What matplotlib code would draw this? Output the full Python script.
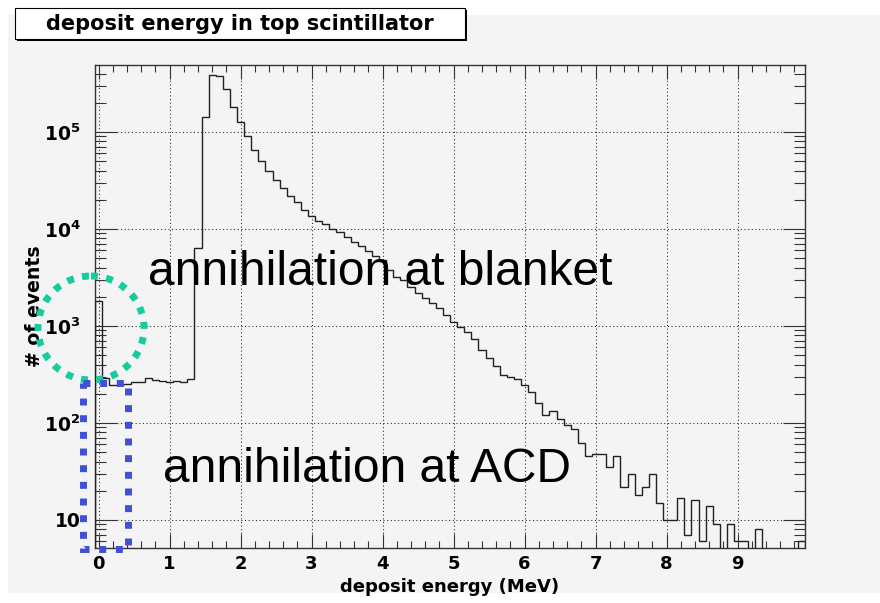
import numpy as np
import matplotlib.pyplot as plt
from matplotlib.patches import Ellipse, Rectangle
from matplotlib.ticker import FixedLocator, MultipleLocator, LogLocator, NullFormatter, FixedFormatter
from matplotlib.transforms import Affine2D

plt.rcParams['mathtext.fontset'] = 'dejavusans'

# histogram: 100 bins of 0.1 MeV, centred on 0.0, 0.1, ... 9.9
counts = [1800, 290, 245, 247, 250, 263, 267, 289, 278, 273,
          267, 273, 267, 283, 6400, 142000, 384000, 380000, 278000, 182000,
          127000, 90000, 65600, 49700, 39200, 32200, 26400, 21700, 19000, 15800,
          13700, 12200, 11200, 9900, 9200, 8200, 7400, 6600, 5950, 5300,
          4800, 3800, 3190, 2990, 2510, 2180, 1940, 1720, 1530, 1300,
          1110, 985, 875, 725, 565, 471, 386, 312, 299, 281,
          246, 210, 161, 122, 133, 109, 95, 86, 62, 46,
          48, 48, 35, 46, 22, 30, 18, 22, 30, 15,
          10, 10, 17, 7, 16, 6, 14, 9, 2, 9,
          6, 6, 2, 8, 2, 2, 2, 2, 2, 6]
edges = np.linspace(-0.05, 9.95, len(counts) + 1)

xticks = list(range(10))
yticks = [10, 1e2, 1e3, 1e4, 1e5]
ylabels = ['10', r'$\mathbf{10^{2}}$', r'$\mathbf{10^{3}}$', r'$\mathbf{10^{4}}$', r'$\mathbf{10^{5}}$']

bg = '#f4f4f4'
fig = plt.figure(figsize=(8.8, 6.03), dpi=100, facecolor='white')
# pixel coords, origin top-left
px = Affine2D().scale(0.01, -0.01).translate(0, 6.03) + fig.dpi_scale_trans

fig.add_artist(Rectangle((8, 15), 872, 578, transform=px, facecolor=bg, edgecolor='none', zorder=0))

ax = fig.add_axes([95/880, 1 - 548.3/603, 710/880, 483.3/603])
ax.set_facecolor(bg)
ax.stairs(counts, edges, baseline=0.1, color='#222222', lw=1.0, zorder=3)
ax.set_yscale('log')
ax.set_xlim(-0.05, 9.95)
ax.set_ylim(5.1, 4.9e5)

ax.xaxis.set_major_locator(FixedLocator(xticks))
ax.xaxis.set_minor_locator(MultipleLocator(0.2))
ax.yaxis.set_major_locator(FixedLocator(yticks))
ax.yaxis.set_major_formatter(FixedFormatter(ylabels))
ax.yaxis.set_minor_locator(LogLocator(base=10, subs=range(2, 10)))
ax.yaxis.set_minor_formatter(NullFormatter())

ax.tick_params(which='both', direction='in', top=True, right=True, color='#333333', width=0.8)
ax.tick_params(axis='x', which='major', length=10, pad=5, labelsize=13)
ax.tick_params(axis='x', which='minor', length=5)
ax.tick_params(axis='y', which='major', length=16, pad=10.5, labelsize=13.5)
ax.tick_params(axis='y', which='minor', length=8)
for lab in ax.get_xticklabels() + ax.get_yticklabels():
    lab.set_fontweight('bold')
for s in ax.spines.values():
    s.set_color('#333333')
    s.set_linewidth(1.0)
ax.grid(True, which='major', ls=(0, (1, 2.5)), lw=0.75, color='#222222')

# axis titles
fig.text(450, 587, 'deposit energy (MeV)', transform=px, ha='center', va='center',
         fontsize=13, fontweight='bold')
fig.text(35, 306, '# of events', transform=px, ha='center', va='center',
         rotation=90, fontsize=13.6, fontweight='bold')

# title box with shadow
fig.add_artist(Rectangle((17, 10), 450, 31, transform=px, facecolor='black', edgecolor='none', zorder=4))
fig.add_artist(Rectangle((15, 8), 450, 31, transform=px, facecolor='white', edgecolor='black', lw=0.8, zorder=5))
fig.text(240, 24, 'deposit energy in top scintillator', transform=px, ha='center', va='center',
         fontsize=15, fontweight='bold', zorder=6)

# slide annotations
fig.text(148, 285, 'annihilation at blanket', transform=px, ha='left', va='baseline',
         fontsize=34.5, family='Liberation Sans', zorder=6)
fig.text(163, 482, 'annihilation at ACD', transform=px, ha='left', va='baseline',
         fontsize=34.5, family='Liberation Sans', zorder=6)

fig.add_artist(Ellipse((91, 328), 106, 104, transform=px, fill=False, edgecolor='#15cc9e',
                       lw=5, ls=(0, (1, 1.2)), zorder=7))
fig.add_artist(Rectangle((83, 383), 45, 166, transform=px, fill=False, edgecolor='#4050d6',
                         lw=5, ls=(0, (1, 1.4)), zorder=7))

fig.savefig('out.png', dpi=100, facecolor='white')
